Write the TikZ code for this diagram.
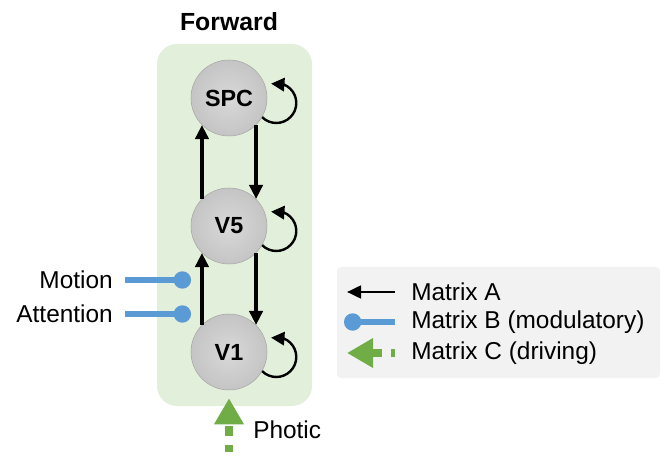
\documentclass[tikz,border=0pt]{standalone}
\usepackage{fontspec}
\setmainfont{Liberation Sans}
\usepackage{tikz}
\usetikzlibrary{arrows.meta,bending,calc,positioning}
\definecolor{panelgreen}{HTML}{E2EFDA}
\definecolor{legendgray}{HTML}{F2F2F2}
\definecolor{modblue}{HTML}{5B9BD5}
\definecolor{drivegreen}{HTML}{70AD47}
\definecolor{areadraw}{HTML}{A6A6A6}
\tikzstyle{panel} =
  [rectangle, fill=panelgreen, rounded corners=15pt,
   minimum width=116.25pt, minimum height=271.5pt]
\tikzstyle{legend} =
  [rectangle, fill=legendgray, rounded corners=3pt,
   minimum width=242.25pt, minimum height=83.25pt]
\tikzstyle{area} =
  [circle, draw=areadraw, inner color=black!15, outer color=black!23,
   minimum size=57pt, inner sep=0pt, font=\fontsize{17.5}{19}\selectfont\bfseries]
\tikzstyle{txt}=[font=\fontsize{18.3}{21}\selectfont, inner sep=3pt]
\tikzstyle{conn}=[draw,-{Triangle[length=10.5pt,width=10pt]},line width=2.4pt]
\tikzstyle{selfconn}=[draw,-{Triangle[length=10pt,width=10pt,flex]},line width=1.8pt]
\tikzstyle{keyconn}=[draw,-{Triangle[length=10.5pt,width=9.5pt]},line width=2pt]
\tikzstyle{modconn}=[draw,modblue,-{Circle[length=13pt]},line width=4pt]
\tikzstyle{driveconn}=[draw,drivegreen,-{Triangle[length=19.5pt,width=21pt]},
   line width=6pt,dash pattern=on 7.5pt off 7pt]
\begin{document}
\begin{tikzpicture}[x=0.75pt, y=0.75pt, node distance=96pt]
  \useasboundingbox (0,0) rectangle (666,460);
  \node [panel] (fwd) at (234.5,235) {};
  \node [txt, font=\fontsize{18.6}{21}\selectfont\bfseries] (ttl) at (229,438) {Forward};
  \node [area] (spc) at (229,362) {SPC};
  \node [area, below of=spc] (v5) {V5};
  \node [area, below of=v5, node distance=94.5pt] (v1) {V1};

  \draw [conn] (v5.135) to (spc.225);
  \draw [conn] (spc.-45) to (v5.45);
  \draw [conn] (v1.135) to (v5.225);
  \draw [conn] (v5.-45) to (v1.45);
  \draw [selfconn] (spc.-30) arc [start angle=-135, end angle=105, radius=15pt];
  \draw [selfconn] (v5.-30) arc [start angle=-135, end angle=105, radius=15pt];
  \draw [selfconn] (v1.-30) arc [start angle=-135, end angle=105, radius=15pt];

  \node [txt, anchor=east, inner xsep=9pt] (motion) at (125,180) {Motion};
  \node [txt, anchor=east, inner xsep=9pt] (attention) at (125,146) {Attention};
  \coordinate (motionend) at (191,180);
  \coordinate (attentionend) at (191,146);
  \draw [modconn] (motion) to (motionend);
  \draw [modconn] (attention) to (attentionend);

  \coordinate (photicstart) at (229,8);
  \draw [driveconn, dash phase=2.25pt, shorten >=6pt] (photicstart) to (v1);
  \node [txt, anchor=west] (photic) at (249,30) {Photic};

  \node [legend] (key) at (498.5,137.5) {};
  \node [txt, anchor=west] (keya) at (407,168) {Matrix A};
  \node [txt, anchor=west] (keyb) at (407,138) {Matrix B (modulatory)};
  \node [txt, anchor=west] (keyc) at (407,107) {Matrix C (driving)};
  \coordinate (a0) at (395,168);
  \coordinate (a1) at (347,168);
  \coordinate (b0) at (395,138);
  \coordinate (b1) at (344,138);
  \coordinate (c0) at (395,107);
  \coordinate (c1) at (347,107);
  \draw [keyconn] (a0) to (a1);
  \draw [modconn] (b0) to (b1);
  \draw [driveconn, dash phase=4.5pt] (c0) to (c1);
\end{tikzpicture}
\end{document}
